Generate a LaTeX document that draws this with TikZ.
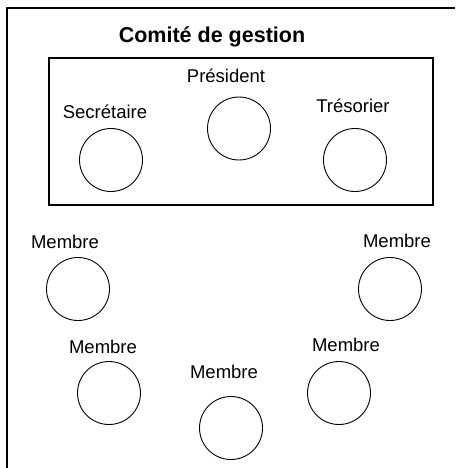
\documentclass[tikz,border=0pt]{standalone}
\usepackage{fontspec}
\setmainfont{Liberation Sans}
\begin{document}
\begin{tikzpicture}[
  x=1pt, y=-1pt,
  seat/.style={circle, draw, line width=0.9pt, minimum size=63pt, inner sep=0pt},
  tag/.style={anchor=base, font=\fontsize{18.5}{22}\selectfont},
  heading/.style={anchor=base, font=\fontsize{21.5}{26}\selectfont\bfseries}
]
\useasboundingbox (0,0) rectangle (455,468);

% Outer frame (runs off the page edge)
\draw[line width=2pt] (7,468) -- (7,8) -- (455,8);

% Management committee
\node (heading) at (212,43) [heading] {Comité de gestion};
\node (committee) at (241,131.5) [draw, line width=1.3pt, minimum width=384pt, minimum height=147pt] {};

\node (secr-tag) at (105,118) [tag] {Secrétaire};
\node (secr) at (111,160) [seat] {};
\node (pres-tag) at (226,83) [tag] {Président};
\node (pres) at (239,128.5) [seat] {};
\node (tres-tag) at (353,113) [tag] {Trésorier};
\node (tres) at (355,160) [seat] {};

% Members
\node (m1-tag) at (65,248) [tag] {Membre};
\node (m1) at (78,289) [seat] {};
\node (m2-tag) at (397,247) [tag] {Membre};
\node (m2) at (390,289) [seat] {};
\node (m3-tag) at (103,353) [tag] {Membre};
\node (m3) at (109,393) [seat] {};
\node (m4-tag) at (224,378) [tag] {Membre};
\node (m4) at (231,428) [seat] {};
\node (m5-tag) at (346,351) [tag] {Membre};
\node (m5) at (339,393) [seat] {};

\end{tikzpicture}
\end{document}
